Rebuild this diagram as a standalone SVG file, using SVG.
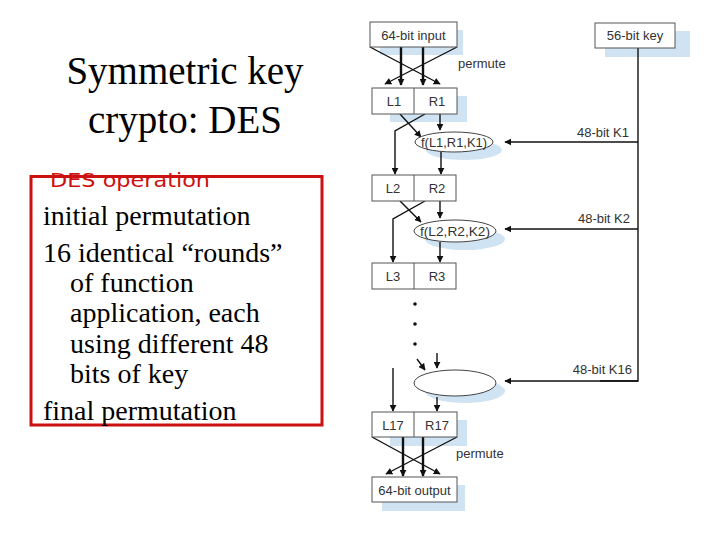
<svg xmlns="http://www.w3.org/2000/svg" width="720" height="540" viewBox="0 0 720 540">
<defs>
<marker id="ah" viewBox="0 0 10 10" refX="9" refY="5" markerWidth="7" markerHeight="7" markerUnits="userSpaceOnUse" orient="auto">
<path d="M0,0 L10,5 L0,10 z" fill="#111"/>
</marker>
<style>
.title{font-family:"Liberation Serif","Times New Roman",serif;font-size:39px;fill:#000;text-anchor:middle}
.body{font-family:"Liberation Serif","Times New Roman",serif;font-size:28px;fill:#000}
.red{font-family:"DejaVu Sans","Liberation Sans",sans-serif;font-size:19px;fill:#cc1111}
.lbl{font-family:"Liberation Sans",Arial,sans-serif;font-size:13px;fill:#333}
.mid{text-anchor:middle}
.end{text-anchor:end}
.box{fill:#fff;stroke:#555;stroke-width:1}
.sh{fill:#cfe3f3;stroke:none}
.ln{fill:none;stroke:#111;stroke-width:1.4;marker-end:url(#ah)}
.th{fill:none;stroke:#111;stroke-width:2.4;marker-end:url(#ah)}
.pl{fill:none;stroke:#111;stroke-width:1.4}
</style>
</defs>
<rect width="720" height="540" fill="#fff"/>

<g id="title">
<text class="title" x="185" y="84">Symmetric key</text>
<text class="title" x="185" y="133">crypto: DES</text>
</g>

<g id="des-operation">
<rect x="31" y="176.5" width="291" height="248.5" fill="none" stroke="#cc1111" stroke-width="3"/>
<text class="red" x="50" y="187" textLength="160" lengthAdjust="spacingAndGlyphs">DES operation</text>
<text class="body" x="43" y="225">initial permutation</text>
<text class="body" x="43" y="262">16 identical “rounds”</text>
<text class="body" x="70" y="292">of function</text>
<text class="body" x="70" y="322">application, each</text>
<text class="body" x="70" y="353">using different 48</text>
<text class="body" x="70" y="383">bits of key</text>
<text class="body" x="43" y="420">final permutation</text>
</g>

<g id="shadows">
<rect class="sh" x="380" y="30" width="83" height="25"/>
<rect class="sh" x="605" y="31" width="85" height="26"/>
<rect class="sh" x="390" y="96" width="77" height="26"/>
<ellipse class="sh" cx="464" cy="150" rx="38" ry="10"/>
<ellipse class="sh" cx="465" cy="239" rx="40" ry="11"/>
<ellipse class="sh" cx="465" cy="391" rx="40" ry="12"/>
<rect class="sh" x="390" y="420" width="77" height="26"/>
<rect class="sh" x="382" y="485" width="83" height="26"/>
</g>

<g id="connectors">
<!-- initial permute -->
<line class="ln" x1="370" y1="47" x2="440" y2="84"/>
<line class="ln" x1="457" y1="47" x2="385" y2="84"/>
<line class="th" x1="401" y1="47" x2="401" y2="85"/>
<line class="th" x1="423" y1="47" x2="423" y2="85"/>
<!-- round 1 -->
<line class="ln" x1="400" y1="114" x2="421" y2="137"/>
<polyline class="ln" points="425,114 395,131 395,174"/>
<line class="ln" x1="440" y1="114" x2="440" y2="130"/>
<line class="ln" x1="441" y1="152" x2="441" y2="174"/>
<!-- key -->
<polyline class="pl" points="638,48 638,381 600,381"/>
<line class="ln" x1="638" y1="142" x2="505" y2="142"/>
<line class="ln" x1="638" y1="229" x2="505" y2="229"/>
<line class="ln" x1="638" y1="381" x2="505" y2="381"/>
<!-- round 2 -->
<line class="ln" x1="400" y1="201" x2="421" y2="222"/>
<polyline class="ln" points="425,201 393,219 393,262"/>
<line class="ln" x1="440" y1="201" x2="440" y2="218"/>
<line class="ln" x1="440" y1="242" x2="440" y2="262"/>
<!-- round 16 -->
<line class="ln" x1="417" y1="359" x2="425" y2="370"/>
<line class="ln" x1="437" y1="353" x2="437" y2="368"/>
<line class="ln" x1="393" y1="368" x2="393" y2="411"/>
<line class="ln" x1="437" y1="397" x2="437" y2="411"/>
<!-- final permute -->
<line class="ln" x1="372" y1="437" x2="440" y2="474"/>
<line class="ln" x1="457" y1="437" x2="386" y2="474"/>
<line class="th" x1="403" y1="437" x2="403" y2="476"/>
<line class="th" x1="423" y1="437" x2="423" y2="476"/>
</g>

<g id="dots" fill="#111">
<circle cx="415" cy="304" r="1.8"/>
<circle cx="415" cy="324" r="1.8"/>
<circle cx="415" cy="344" r="1.8"/>
</g>

<g id="input">
<rect class="box" x="370" y="22" width="87" height="25"/>
<text class="lbl mid" x="413.5" y="40">64-bit input</text>
</g>
<g id="key">
<rect class="box" x="595" y="23" width="80" height="25"/>
<text class="lbl mid" x="635" y="40">56-bit key</text>
</g>
<g id="permute1"><text class="lbl" x="458" y="68">permute</text></g>

<g id="L1R1">
<rect class="box" x="372" y="88" width="85" height="26"/>
<line x1="414" y1="88" x2="414" y2="114" stroke="#555"/>
<text class="lbl mid" x="394" y="106">L1</text>
<text class="lbl mid" x="437" y="106">R1</text>
</g>
<g id="f1">
<ellipse cx="454" cy="142" rx="39" ry="10" fill="#fff" stroke="#444"/>
<text class="lbl mid" x="454" y="147" textLength="66" lengthAdjust="spacingAndGlyphs">f(L1,R1,K1)</text>
</g>
<g id="k1"><text class="lbl end" x="629" y="137">48-bit K1</text></g>

<g id="L2R2">
<rect class="box" x="372" y="175" width="84" height="26"/>
<line x1="414" y1="175" x2="414" y2="201" stroke="#555"/>
<text class="lbl mid" x="393" y="193">L2</text>
<text class="lbl mid" x="437" y="193">R2</text>
</g>
<g id="f2">
<ellipse cx="455" cy="231" rx="41" ry="11" fill="#fff" stroke="#444"/>
<text class="lbl mid" x="455" y="236" textLength="70" lengthAdjust="spacingAndGlyphs">f(L2,R2,K2)</text>
</g>
<g id="k2"><text class="lbl end" x="630" y="223">48-bit K2</text></g>

<g id="L3R3">
<rect class="box" x="372" y="263" width="84" height="26"/>
<line x1="414" y1="263" x2="414" y2="289" stroke="#555"/>
<text class="lbl mid" x="393" y="281">L3</text>
<text class="lbl mid" x="437" y="281">R3</text>
</g>

<g id="f16">
<ellipse cx="455" cy="383" rx="41" ry="13" fill="#fff" stroke="#444"/>
</g>
<g id="k16"><text class="lbl end" x="632" y="374">48-bit K16</text></g>

<g id="L17R17">
<rect class="box" x="372" y="412" width="85" height="25"/>
<line x1="414" y1="412" x2="414" y2="437" stroke="#555"/>
<text class="lbl mid" x="393" y="430">L17</text>
<text class="lbl mid" x="437" y="430">R17</text>
</g>
<g id="permute2"><text class="lbl" x="456" y="458">permute</text></g>

<g id="output">
<rect class="box" x="372" y="477" width="85" height="25"/>
<text class="lbl mid" x="414.5" y="495">64-bit output</text>
</g>
</svg>
